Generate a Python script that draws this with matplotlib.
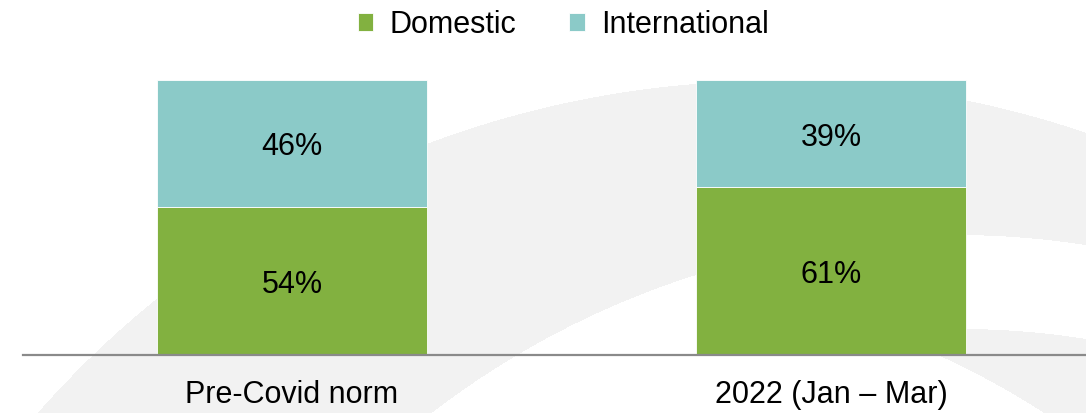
import numpy as np
import matplotlib
matplotlib.use("Agg")
import matplotlib.pyplot as plt
from matplotlib.colors import to_rgb

categories = ["Pre-Covid norm", "2022 (Jan – Mar)"]
domestic = [54, 61]
international = [46, 39]

GREEN = "#82b140"
TEAL = "#8bcac8"
SWOOSH = "#f2f2f2"
AXIS_GREY = "#8a8a8a"

W, H = 1086, 413
plt.rcParams["font.family"] = ["Liberation Sans", "DejaVu Sans"]

fig = plt.figure(figsize=(W / 100, H / 100), dpi=100)

# faint background swooshes: crescent bands between pairs of circles, in pixel coords
yy, xx = np.mgrid[0:H, 0:W] + 0.5


def inside(cx, cy, r):
    return (xx - cx) ** 2 + (yy - cy) ** 2 < r ** 2


band = (inside(772, 1059, 978) & ~inside(955, 1093, 858)) | \
       (inside(960, 1129, 800) & ~inside(600, 1100, 818))
img = np.ones((H, W, 3))
img[band] = to_rgb(SWOOSH)
bg = fig.add_axes([0, 0, 1, 1], zorder=0)
bg.imshow(img, extent=(0, W, H, 0), aspect="auto", interpolation="bilinear")
bg.axis("off")

# stacked bars; axis spans 22.5..1100 px horizontally, baseline at y=355, 100% at y=80
ax = fig.add_axes([22.5 / W, (H - 355) / H, 1078 / W, 275 / H], zorder=1)
ax.patch.set_alpha(0)
x = np.arange(len(categories))
b1 = ax.bar(x, domestic, 0.5, color=GREEN, edgecolor="white", linewidth=0.6, label="Domestic")
b2 = ax.bar(x, international, 0.5, bottom=domestic, color=TEAL, edgecolor="white",
            linewidth=0.6, label="International")
labels = ax.bar_label(b1, labels=[f"{v}%" for v in domestic], label_type="center", fontsize=22)
labels += ax.bar_label(b2, labels=[f"{v}%" for v in international], label_type="center",
                       fontsize=22)
for t in labels:
    t.xyann = (0, -3)   # nudge so the digits, not the text box, sit mid-segment

ax.set_xlim(-0.5, 1.5)
ax.set_ylim(0, 100)
ax.set_xticks(x, categories, fontsize=22)
ax.set_yticks([])
ax.tick_params(axis="x", length=0, pad=18)
for side in ("top", "left", "right"):
    ax.spines[side].set_visible(False)
ax.spines["bottom"].set_color(AXIS_GREY)
ax.spines["bottom"].set_linewidth(1.6)

fig.legend(handles=[b1, b2], loc="center", bbox_to_anchor=(563 / W, 1 - 25 / H), ncol=2,
           frameon=False, fontsize=22, handlelength=0.52, handleheight=0.52,
           handletextpad=0.52, columnspacing=1.73, borderpad=0, borderaxespad=0)

fig.savefig("out.png", dpi=100)
